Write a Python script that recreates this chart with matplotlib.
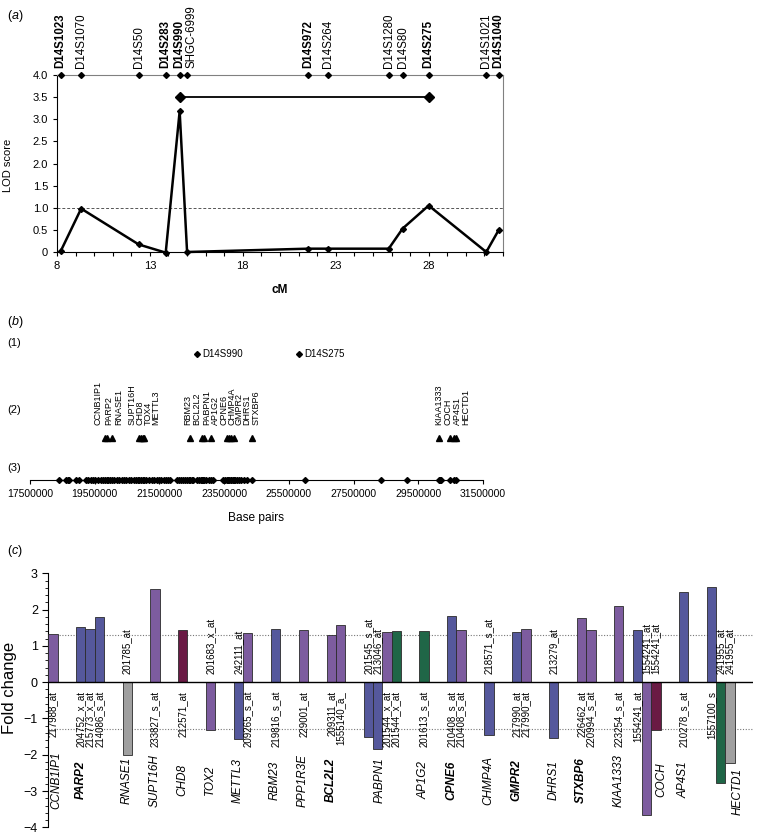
import matplotlib
matplotlib.use('Agg')
import matplotlib.pyplot as plt
from matplotlib.ticker import MultipleLocator, FuncFormatter

plt.rcParams['font.family'] = ['Liberation Sans', 'DejaVu Sans']
plt.rcParams['mathtext.fontset'] = 'custom'
plt.rcParams['mathtext.rm'] = 'Liberation Sans'
plt.rcParams['mathtext.it'] = 'Liberation Sans:italic'

########################################################################
### data ###
########################################################################

#(a) linkage markers, position in cM and LOD score
marker_names = ['D14S1023', 'D14S1070', 'D14S50', 'D14S283', 'D14S990',
                'SHGC-6999', 'D14S972', 'D14S264', 'D14S1280', 'D14S80',
                'D14S275', 'D14S1021', 'D14S1040']
marker_cm = [8.2, 9.3, 12.4, 13.85, 14.6, 15.0, 21.5, 22.6, 25.85, 26.6,
             28.0, 31.1, 31.76]
lod = [0.02, 0.98, 0.17, -0.015, 3.18, 0.0, 0.075, 0.075, 0.075, 0.53,
       1.05, 0.0, 0.49]
marker_bold = ['D14S1023', 'D14S283', 'D14S990', 'D14S972', 'D14S275',
               'D14S1040']
region_cm = [14.6, 28.0]
region_lod = 3.5
lod_threshold = 1.0

#(b) physical map, positions in Mb
bp_marker_names = ['D14S990', 'D14S275']
bp_marker_mb = [22.65, 25.80]
gene_names_b = ['CCNB1IP1', 'PARP2', 'RNASE1', 'SUPT16H', 'CHD8', 'TOX4',
                'METTL3', 'RBM23', 'BCL2L2', 'PABPN1', 'AP1G2', 'CPNE6',
                'CHMP4A', 'GMPR2', 'DHRS1', 'STXBP6', 'KIAA1333', 'COCH',
                'AP4S1', 'HECTD1']
gene_mb = [19.82, 19.87, 20.03, 20.88, 20.92, 20.98, 21.03, 22.45, 22.83,
           22.88, 23.10, 23.58, 23.66, 23.72, 23.80, 24.36, 30.13, 30.47,
           30.59, 30.66]
gene_label_mb = [19.61, 19.94, 20.23, 20.66, 20.91, 21.15, 21.40, 22.37,
                 22.65, 22.96, 23.22, 23.50, 23.74, 23.97, 24.20, 24.49,
                 30.13, 30.42, 30.70, 30.98]
probe_mb = [18.41, 18.60, 18.66, 18.71, 18.92, 19.02,
            19.23, 19.30, 19.38, 19.45, 19.52, 19.60, 19.68, 19.75, 19.82,
            19.87, 19.92, 19.98, 20.03, 20.10, 20.18, 20.26, 20.33, 20.41,
            20.48, 20.55, 20.63, 20.70, 20.78, 20.85, 20.88, 20.92, 20.98,
            21.03, 21.10, 21.18, 21.26, 21.33, 21.41, 21.49, 21.56, 21.63,
            21.70, 21.77, 21.83,
            22.04, 22.10, 22.16, 22.22, 22.29, 22.36, 22.42, 22.45, 22.50,
            22.55, 22.65, 22.72, 22.79, 22.83, 22.86, 22.88, 22.95, 23.03,
            23.10, 23.17, 23.48, 23.53, 23.58, 23.62, 23.66, 23.70, 23.72,
            23.76, 23.80, 23.84, 23.90, 23.96, 24.03, 24.10, 24.20, 24.36,
            25.99, 28.36, 29.15, 30.13, 30.17, 30.20, 30.47, 30.59, 30.66]
bp_ticks = [17500000, 19500000, 21500000, 23500000, 25500000, 27500000,
            29500000, 31500000]

#(c) fold changes per gene and probe set
genes = ['CCNB1IP1', 'PARP2', 'RNASE1', 'SUPT16H', 'CHD8', 'TOX2',
         'METTL3', 'RBM23', 'PPP1R3E', 'BCL2L2', 'PABPN1', 'AP1G2',
         'CPNE6', 'CHMP4A', 'GMPR2', 'DHRS1', 'STXBP6', 'KIAA1333', 'COCH',
         'AP4S1', 'HECTD1']
genes_bold = ['PARP2', 'BCL2L2', 'CPNE6', 'GMPR2', 'STXBP6']
probes = [
    ['217988_at'],
    ['204752_x_at', '215773_x_at', '214086_s_at'],
    ['201785_at'],
    ['233827_s_at'],
    ['212571_at'],
    ['201683_x_at'],
    ['242111_at', '209265_s_at'],
    ['219816_s_at'],
    ['229001_at'],
    ['209311_at', '1555140_a_'],
    ['201545_s_at', '213046_at', '201544_x_at', '201544_x_at'],
    ['201613_s_at'],
    ['210408_s_at', '210408_s_at'],
    ['218571_s_at'],
    ['217990_at', '217990_at'],
    ['213279_at'],
    ['226462_at', '220994_s_at'],
    ['223254_s_at'],
    ['1554241_at', '1554241_at', '1554241_at'],
    ['210278_s_at'],
    ['1557100_s', '241955_at', '241955_at'],
]
fold = [
    [1.33],
    [1.53, 1.47, 1.80],
    [-2.01],
    [2.56],
    [1.43],
    [-1.33],
    [-1.56, 1.35],
    [1.47],
    [1.45],
    [1.30, 1.57],
    [-1.50, -1.84, 1.38, 1.41],
    [1.41],
    [1.83, 1.43],
    [-1.46],
    [1.39, 1.46],
    [-1.54],
    [1.78, 1.43],
    [2.10],
    [1.43, -3.67, -1.33],
    [2.48],
    [2.63, -2.79, -2.23],
]
bar_kind = [
    'P', 'BBB', 'Y', 'P', 'M', 'P', 'BP', 'B', 'P', 'PP', 'BBPG', 'G',
    'BP', 'B', 'BP', 'B', 'PP', 'P', 'BPM', 'B', 'BGY',
]
fold_threshold = 1.3

########################################################################
### styles ###
########################################################################
kind_colors = {'P': '#7d5c9f', 'B': '#55589c', 'M': '#6a1a44',
               'G': '#1f6647', 'Y': '#a0a0a0'}
narrow = ['Liberation Sans Narrow', 'Liberation Sans', 'DejaVu Sans']
W, H = 762, 840


def box(x0, y0, x1, y1):
    #pixel box (top-left origin) -> figure fraction
    return [x0 / W, 1 - y1 / H, (x1 - x0) / W, (y1 - y0) / H]


fig = plt.figure(figsize=(W / 100, H / 100), dpi=100)

#panel letters
fig.text(7 / W, 1 - 15.5 / H, r'($\mathit{a}$)', fontsize=9, va='center')
fig.text(7 / W, 1 - 322 / H, r'($\mathit{b}$)', fontsize=9, va='center')
fig.text(7 / W, 1 - 551 / H, r'($\mathit{c}$)', fontsize=9, va='center')

########################################################################
### (a) LOD scores ###
########################################################################
axa = fig.add_axes(box(57, 75, 503, 252))
axa.set_xlim(8, 32)
axa.set_ylim(0, 4)

#threshold line
axa.axhline(lod_threshold, color='#555555', ls=(0, (3, 2)), lw=0.7,
            zorder=1)

#LOD curve
axa.plot(marker_cm, lod, color='k', lw=1.8, marker='D', ms=3, zorder=3,
         clip_on=False)

#linked region
axa.plot(region_cm, [region_lod] * 2, color='k', lw=1.3, marker='D',
         ms=5.5, zorder=3)

#markers along the top, labels nudged where they crowd
label_nudge = {'SHGC-6999': 3.5}
axa.plot(marker_cm, [4] * len(marker_cm), ls='none', marker='D', ms=3,
         color='k', clip_on=False, zorder=4)
for name, x in zip(marker_names, marker_cm):
    axa.annotate(name, (x, 4), xytext=(label_nudge.get(name, 0), 5),
                 textcoords='offset points', rotation=90, ha='center',
                 va='bottom', fontsize=8.3,
                 fontweight='bold' if name in marker_bold else 'normal')

#axes
for s in ['top', 'right']:
    axa.spines[s].set_color('#808080')
axa.xaxis.set_minor_locator(MultipleLocator(1))
axa.set_xticks([8, 13, 18, 23, 28])
axa.yaxis.set_major_locator(MultipleLocator(0.5))
axa.yaxis.set_major_formatter(
    FuncFormatter(lambda v, p: '0' if v == 0 else '%.1f' % v))
axa.tick_params(which='both', length=3, width=0.8, labelsize=8)
axa.set_xlabel('cM', fontsize=8.6, fontweight='bold')
axa.xaxis.set_label_coords(0.5, -0.18)
axa.set_ylabel('LOD score', fontsize=8)
axa.yaxis.set_label_coords(-0.099, 0.49)

########################################################################
### (b) physical map ###
########################################################################
axb = fig.add_axes(box(30, 330, 483, 480))
axb.set_xlim(bp_ticks[0], bp_ticks[-1])
axb.set_ylim(0, 150)

#row (1) markers
axb.plot([m * 1e6 for m in bp_marker_mb], [126] * len(bp_marker_mb),
         ls='none', marker='D', ms=3, color='k')
for name, x in zip(bp_marker_names, bp_marker_mb):
    axb.annotate(name, (x * 1e6, 126), xytext=(4, 0),
                 textcoords='offset points', ha='left', va='center',
                 fontsize=7)

#row (2) genes
axb.plot([g * 1e6 for g in gene_mb], [42] * len(gene_mb), ls='none',
         marker='^', ms=5, color='k')
for name, x in zip(gene_names_b, gene_label_mb):
    axb.text(x * 1e6, 55, name, rotation=90, ha='center', va='bottom',
             fontsize=6.5)

#row (3) probes
axb.plot([p * 1e6 for p in probe_mb], [0] * len(probe_mb), ls='none',
         marker='D', ms=3, color='k', clip_on=False, zorder=4)

for s in ['top', 'right', 'left']:
    axb.spines[s].set_visible(False)
axb.set_yticks([])
axb.set_xticks(bp_ticks)
axb.set_xticklabels([str(t) for t in bp_ticks])
axb.tick_params(axis='x', length=3, width=0.8, labelsize=7.5)
axb.set_xlabel('Base pairs', fontsize=8.6)
axb.xaxis.set_label_coords(0.5, -0.21)

for lab, y in zip(['(1)', '(2)', '(3)'], [343, 410, 468]):
    fig.text(7 / W, 1 - y / H, lab, fontsize=8, va='center')

########################################################################
### (c) fold changes ###
########################################################################
axc = fig.add_axes(box(48.3, 573.3, 753.3, 827.3))
axc.set_ylim(-4, 3)

#layout: two empty slots between genes, one after KIAA1333
gap_after = {'KIAA1333': 1}
#shift of the gene name from the start of its group
name_shift = {'CCNB1IP1': 0.4, 'PABPN1': 1.3, 'COCH': 2.6, 'HECTD1': 2.9}
name_drop = {'HECTD1': 0.3}

pos = 0
for gene, plist, vals, kinds in zip(genes, probes, fold, bar_kind):
    xs = [pos + i for i in range(len(vals))]
    axc.bar(xs, vals, width=1, align='edge',
            color=[kind_colors[k] for k in kinds], edgecolor='#2b2b2b',
            linewidth=0.6, zorder=3)
    for x, v, p in zip(xs, vals, plist):
        if v > 0:
            axc.text(x + 0.5, -0.24, p, rotation=90, ha='center', va='top',
                     fontsize=7, family=narrow)
        else:
            axc.text(x + 0.5, 0.22, p, rotation=90, ha='center',
                     va='bottom', fontsize=7, family=narrow)
    axc.text(pos + 0.45 + name_shift.get(gene, 0.0),
             -2.7 - name_drop.get(gene, 0.0), gene,
             rotation=90, ha='center', va='center', fontsize=8.5,
             family=narrow, style='italic',
             fontweight='bold' if gene in genes_bold else 'normal')
    pos += len(vals) + gap_after.get(gene, 2)

axc.set_xlim(0, pos)

#threshold lines and zero line
for yv in [fold_threshold, -fold_threshold]:
    axc.axhline(yv, color='#777777', ls=(0, (1, 1.5)), lw=0.8, zorder=1)
axc.axhline(0, color='k', lw=1.0, zorder=4)

for s in ['top', 'right', 'bottom']:
    axc.spines[s].set_visible(False)
axc.set_xticks([])
axc.yaxis.set_major_locator(MultipleLocator(1))
axc.yaxis.set_minor_locator(MultipleLocator(0.2))
axc.tick_params(axis='y', which='major', length=4, width=0.8, labelsize=9)
axc.tick_params(axis='y', which='minor', length=2, width=0.6)
axc.set_ylabel('Fold change', fontsize=12)
axc.yaxis.set_label_coords(-0.044, 0.548)

fig.savefig('out.png', dpi=100)
